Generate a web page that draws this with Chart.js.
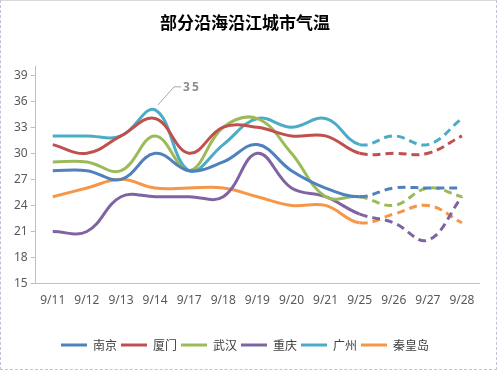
<!DOCTYPE html>
<html>
<head>
<meta charset="utf-8">
<script src="https://cdn.jsdelivr.net/npm/chart.js@4/dist/chart.umd.min.js"></script>
<style>
  html, body { margin: 0; padding: 0; background: #fff; }
  #wrap {
    width: 497px; height: 370px; box-sizing: border-box;
    border: 1px dashed #c6c0d4; border-top: 1px solid #d9d9d9;
    position: relative;
  }
</style>
</head>
<body>
<div id="wrap"><canvas id="chart"></canvas></div>
<script>
const labels = ['9/11', '9/12', '9/13', '9/14', '9/17', '9/18', '9/19', '9/20', '9/21', '9/25', '9/26', '9/27', '9/28'];

const nanjing    = [28, 28, 27, 30, 28, 29, 31, 28, 26, 25, 26, 26, 26];
const xiamen     = [31, 30, 32, 34, 30, 33, 33, 32, 32, 30, 30, 30, 32];
const wuhan      = [29, 29, 28, 32, 28, 33, 34, 30, 25, 25, 24, 26, 25];
const chongqing  = [21, 21, 25, 25, 25, 25, 30, 26, 25, 23, 22, 20, 25];
const guangzhou  = [32, 32, 32, 35, 28, 31, 34, 33, 34, 31, 32, 31, 34];
const qinhuangdao = [25, 26, 27, 26, 26, 26, 25, 24, 24, 22, 23, 24, 22];

const yTicks = [15, 18, 21, 24, 27, 30, 33, 36, 39];

// from 9/25 on the lines are forecasts -> dashed
const forecastFrom = 9;

function series(label, data, color) {
  return {
    label,
    data,
    borderColor: color,
    backgroundColor: color,
    borderWidth: 3,
    pointRadius: 0,
    pointHoverRadius: 0,
    fill: false,
    tension: 0.4,
    segment: {
      borderDash: ctx => ctx.p0DataIndex >= forecastFrom ? [8, 5] : undefined
    }
  };
}

// the "35" callout on the Guangzhou peak
const calloutPlugin = {
  id: 'callout',
  afterDatasetsDraw(chart) {
    const pt = chart.getDatasetMeta(4).data[3];
    if (!pt) return;
    const ctx = chart.ctx;
    ctx.save();
    ctx.strokeStyle = '#a6a6a6';
    ctx.lineWidth = 1;
    ctx.beginPath();
    ctx.moveTo(pt.x + 3, pt.y - 5);
    ctx.lineTo(pt.x + 19, pt.y - 23);
    ctx.lineTo(pt.x + 26, pt.y - 23);
    ctx.stroke();
    ctx.fillStyle = '#8c8c8c';
    ctx.font = 'bold 12px "Noto Sans", sans-serif';
    ctx.letterSpacing = '2px';
    ctx.textBaseline = 'middle';
    ctx.fillText('35', pt.x + 28, pt.y - 22);
    ctx.restore();
  }
};

new Chart(document.getElementById('chart'), {
  type: 'line',
  data: {
    labels,
    datasets: [
      series('南京', nanjing, '#4f81bd'),
      series('厦门', xiamen, '#c0504d'),
      series('武汉', wuhan, '#9bbb59'),
      series('重庆', chongqing, '#8064a2'),
      series('广州', guangzhou, '#4bacc6'),
      series('秦皇岛', qinhuangdao, '#f79646')
    ]
  },
  options: {
    responsive: true,
    maintainAspectRatio: false,
    animation: false,
    layout: { padding: { left: 10, right: 17, top: 4, bottom: 8 } },
    plugins: {
      title: {
        display: true,
        text: '部分沿海沿江城市气温',
        color: '#000',
        font: { family: '"Noto Sans CJK SC"', size: 17, weight: 'bold' },
        padding: { top: 7, bottom: 34 }
      },
      legend: {
        position: 'bottom',
        labels: {
          color: '#404040',
          font: { family: '"Noto Sans CJK SC"', size: 12 },
          boxWidth: 26,
          boxHeight: 3,
          padding: 4,
          generateLabels(chart) {
            return Chart.defaults.plugins.legend.labels.generateLabels(chart)
              .map(l => Object.assign(l, { lineWidth: 0, lineDash: [] }));
          }
        }
      },
      tooltip: { enabled: false }
    },
    scales: {
      x: {
        offset: true,
        grid: { display: false },
        border: { color: '#bfbfbf', dash: [2, 2] },
        ticks: {
          color: '#595959',
          font: { family: '"Noto Sans"', size: 12 },
          maxRotation: 0,
          autoSkip: false,
          padding: 2
        },
        afterFit(axis) { axis.height += 25; }
      },
      y: {
        min: 15,
        max: 40,
        afterBuildTicks(axis) {
          axis.ticks = yTicks.map(v => ({ value: v }));
        },
        grid: {
          drawOnChartArea: false,
          color: '#bfbfbf',
          tickLength: 5
        },
        border: { color: '#bfbfbf' },
        ticks: {
          color: '#595959',
          font: { family: '"Noto Sans"', size: 12 },
          padding: 3
        }
      }
    }
  },
  plugins: [calloutPlugin]
});
</script>
</body>
</html>
